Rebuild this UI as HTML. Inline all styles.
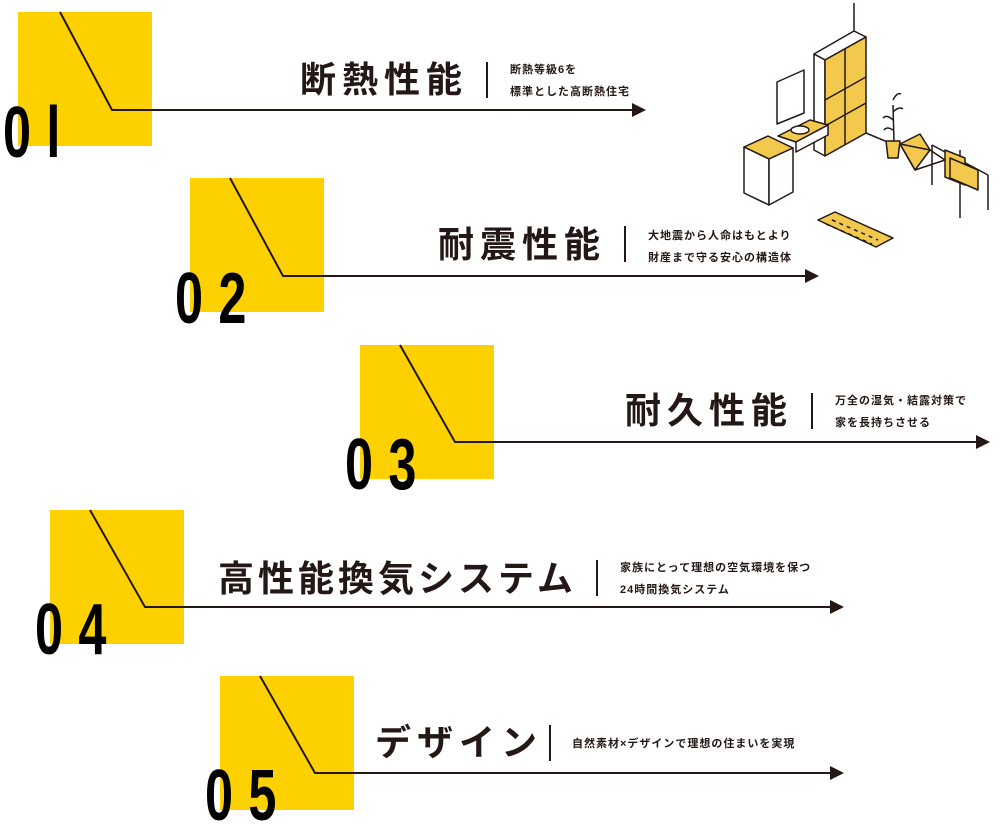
<!DOCTYPE html>
<html><head><meta charset="utf-8"><style>
html,body{margin:0;padding:0;background:#fff;}
#c{position:relative;width:1000px;height:830px;overflow:hidden;font-family:"Liberation Sans","Noto Sans CJK JP",sans-serif;color:#231815;}
.sq{position:absolute;width:134px;height:134px;background:#FDD000;}
.num{position:absolute;font-family:"Liberation Sans",sans-serif;font-weight:bold;font-size:72px;line-height:1;color:#000;transform:scaleX(0.7);transform-origin:left top;letter-spacing:22px;}
.t{position:absolute;font-size:36px;font-weight:bold;letter-spacing:6px;line-height:1;white-space:nowrap;}
.s{position:absolute;font-size:11px;font-weight:bold;line-height:22px;white-space:nowrap;letter-spacing:1px;}
.bar{position:absolute;width:2px;height:36px;background:#231815;}
</style></head><body><div id="c">
<div class="sq" style="left:18px;top:12px"></div>
<div class="sq" style="left:190px;top:178px"></div>
<div class="sq" style="left:360px;top:345px"></div>
<div class="sq" style="left:50px;top:510px"></div>
<div class="sq" style="left:220px;top:676px"></div>

<svg width="1000" height="830" style="position:absolute;left:0;top:0" fill="none" stroke="#231815" stroke-width="2">
<polyline points="60,12 112,110 632,110"/><polygon points="632,103 646,110 632,117" fill="#231815" stroke="none"/>
<polyline points="230,178 283,276 805,276"/><polygon points="805,269 819,276 805,283" fill="#231815" stroke="none"/>
<polyline points="400,345 455,442 976,442"/><polygon points="976,435 990,442 976,449" fill="#231815" stroke="none"/>
<polyline points="90,510 145,607 830,607"/><polygon points="830,600 844,607 830,614" fill="#231815" stroke="none"/>
<polyline points="260,676 315,773 830,773"/><polygon points="830,766 844,773 830,780" fill="#231815" stroke="none"/>
<g stroke-width="1.5" stroke-linejoin="round">
<line x1="854" y1="3" x2="854" y2="31"/>
<polygon points="814,54 854,31 866,37 825,60" fill="#fff"/>
<polygon points="814,54 825,60 825,156 814,150" fill="#fff"/>
<polygon points="825,60 866,37 866,133 825,156" fill="#F2C94C"/>
<line x1="825" y1="100" x2="866" y2="77"/><line x1="825" y1="126" x2="866" y2="103"/><line x1="845" y1="49" x2="845" y2="145"/>
<polygon points="777,82 804,70 804,113 777,124" fill="#fff"/>
<polygon points="778,136 810,120 828,125 796,142" fill="#F2C94C"/>
<ellipse cx="800" cy="130" rx="9" ry="4" fill="#fff"/>
<polygon points="796,142 828,125 828,135 796,152" fill="#fff"/>
<polygon points="744,147 768,136 793,148 769,159" fill="#F2C94C"/>
<polygon points="744,147 769,159 769,205 744,193" fill="#fff"/>
<polygon points="769,159 793,148 793,192 769,205" fill="#fff"/>
<line x1="866" y1="133" x2="890" y2="143"/>
<path d="M894 142 L893 105 M893 120 q-6 -6 -10 -2 M893 112 q6 -6 10 -3 M893 130 q-6 -4 -9 0 M893 100 q4 -8 8 -6"/>
<polygon points="886,141 900,141 898,158 888,158" fill="#F2C94C"/>
<polygon points="900,144 920,134 930,150 915,170" fill="#F2C94C"/>
<polygon points="900,144 915,170 945,160 930,150" fill="none"/>
<line x1="932" y1="145" x2="932" y2="185"/><line x1="960" y1="150" x2="960" y2="218"/>
<line x1="932" y1="145" x2="988" y2="175"/><line x1="988" y1="175" x2="988" y2="210"/>
<polygon points="945,150 965,158 965,185 945,177" fill="#F2C94C"/>
<polygon points="950,158 978,170 978,190 950,178" fill="#F2C94C"/>
<polygon points="818,220 835,212 893,238 876,247" fill="#F2C94C"/>
<g stroke-dasharray="4,4"><line x1="832" y1="220" x2="878" y2="240"/><line x1="826" y1="224" x2="872" y2="244"/></g>
</g>
</svg>

<div class="num" style="left:3px;top:97px">0l</div>
<div class="num" style="left:175px;top:263px">02</div>
<div class="num" style="left:345px;top:429px">03</div>
<div class="num" style="left:35px;top:594px">04</div>
<div class="num" style="left:205px;top:760px">05</div>

<div class="t" style="left:300px;top:62px">断熱性能</div>
<div class="bar" style="left:486px;top:62px"></div>
<div class="s" style="left:510px;top:59px">断熱等級6を<br>標準とした高断熱住宅</div>

<div class="t" style="left:438px;top:227px">耐震性能</div>
<div class="bar" style="left:624px;top:226px"></div>
<div class="s" style="left:648px;top:225px">大地震から人命はもとより<br>財産まで守る安心の構造体</div>

<div class="t" style="left:625px;top:393px">耐久性能</div>
<div class="bar" style="left:811px;top:393px"></div>
<div class="s" style="left:835px;top:390px">万全の湿気・結露対策で<br>家を長持ちさせる</div>

<div class="t" style="left:218px;top:561px;letter-spacing:4px">高性能換気システム</div>
<div class="bar" style="left:596px;top:560px"></div>
<div class="s" style="left:620px;top:557px">家族にとって理想の空気環境を保つ<br>24時間換気システム</div>

<div class="t" style="left:375px;top:725px">デザイン</div>
<div class="bar" style="left:549px;top:725px"></div>
<div class="s" style="left:572px;top:733px">自然素材×デザインで理想の住まいを実現</div>
</div></body></html>
